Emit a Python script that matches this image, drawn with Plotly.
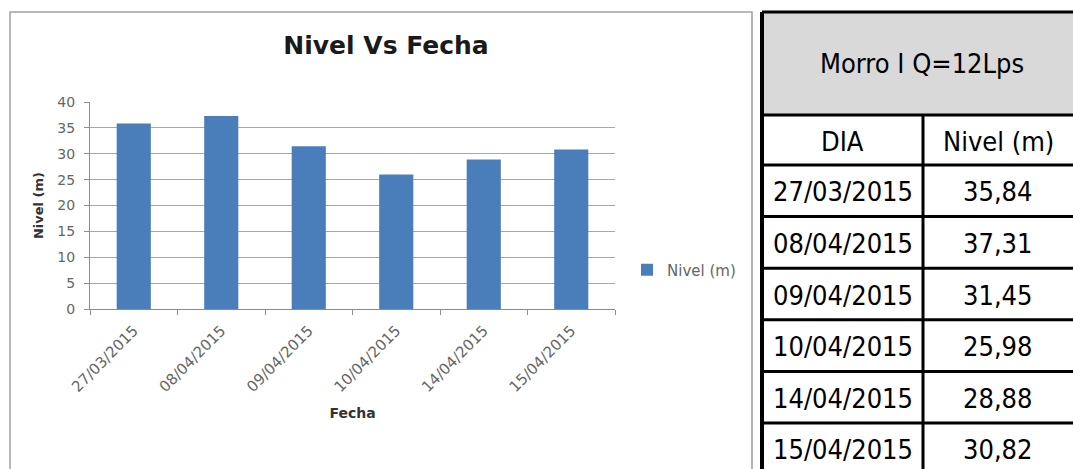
import plotly.graph_objects as go

# ---- data ----
fechas = ["27/03/2015", "08/04/2015", "09/04/2015", "10/04/2015", "14/04/2015", "15/04/2015"]
nivel = [35.84, 37.31, 31.45, 25.98, 28.88, 30.82]
nivel_txt = ["35,84", "37,31", "31,45", "25,98", "28,88", "30,82"]
serie_nombre = "Nivel (m)"
titulo = "Nivel Vs Fecha"
tabla_titulo = "Morro I Q=12Lps"
tabla_cols = ["DIA", "Nivel (m)"]
y_ticks = [0, 5, 10, 15, 20, 25, 30, 35, 40]

W, H = 1073, 469


def px(x):
    return x / W


def py(y):
    return 1 - y / H


fig = go.Figure()
fig.add_trace(go.Bar(
    x=fechas, y=nivel, name=serie_nombre,
    marker=dict(color="#4A7EBB", line=dict(width=0)),
    width=0.39, showlegend=True,
))

axis_grey = "#8c8c8c"
tick_font = dict(family="DejaVu Sans", size=14, color="#666666")

fig.update_layout(
    width=W, height=H,
    margin=dict(l=0, r=0, t=0, b=0, pad=0),
    paper_bgcolor="white", plot_bgcolor="white",
    title=dict(text="<b>" + titulo + "</b>", x=px(386), xanchor="center",
               y=py(45), yanchor="middle", yref="paper", xref="paper",
               font=dict(family="DejaVu Sans", size=25, color="#1a1a1a")),
    xaxis=dict(domain=[px(90), px(615)], type="category", automargin=False,
               tickson="boundaries", ticks="outside", ticklen=5, tickcolor=axis_grey,
               showline=True, linecolor=axis_grey, linewidth=1,
               showgrid=False, tickangle=-45, tickfont=dict(family="DejaVu Sans", size=15, color="#666666"),
               ticklabelstandoff=6,
               title=dict(text="<b>Fecha</b>", font=dict(family="DejaVu Sans", size=14, color="#333333"),
                          standoff=13)),
    yaxis=dict(domain=[py(309), py(102)], range=[0, 40], tickvals=y_ticks, automargin=False,
               ticks="outside", ticklen=5, tickcolor=axis_grey,
               showline=True, linecolor=axis_grey, linewidth=1,
               showgrid=True, gridcolor="#a8a8a8", gridwidth=1, zeroline=False,
               tickfont=tick_font, ticklabelstandoff=6,
               title=dict(text="<b>Nivel (m)</b>", font=dict(family="DejaVu Sans", size=13, color="#333333"),
                          standoff=10)),
    legend=dict(x=px(627), y=py(270), xanchor="left", yanchor="middle",
                font=dict(family="DejaVu Sans", size=15, color="#666666"),
                itemwidth=30, bgcolor="rgba(0,0,0,0)"),
    bargap=0.6,
)

shapes = []
annotations = []

# chart border
shapes.append(dict(type="rect", xref="paper", yref="paper",
                   x0=px(10), x1=px(752), y0=py(472), y1=py(12),
                   line=dict(color="#a0a0a0", width=1.5), fillcolor="rgba(0,0,0,0)", layer="below"))

# ---- table ----
tx0, tx1, tmid = 762, 1076, 923
head_top, head_bot = 12, 115
colhead_bot = 165
row_h = 51.6
n = len(fechas)
tbot = colhead_bot + row_h * n
black = dict(color="black", width=3)
tfont = dict(family="DejaVu Sans Condensed, Liberation Sans", size=27, color="black")

shapes.append(dict(type="rect", xref="paper", yref="paper",
                   x0=px(tx0), x1=px(tx1), y0=py(head_bot), y1=py(head_top),
                   fillcolor="#d9d9d9", line=dict(width=0), layer="below"))
# horizontal lines
ys = [head_top, head_bot, colhead_bot] + [colhead_bot + row_h * (i + 1) for i in range(n)]
for yv in ys:
    shapes.append(dict(type="line", xref="paper", yref="paper",
                       x0=px(tx0), x1=px(tx1), y0=py(yv), y1=py(yv), line=black))
# vertical lines
shapes.append(dict(type="line", xref="paper", yref="paper",
                   x0=px(tx0), x1=px(tx0), y0=py(head_top), y1=py(tbot), line=dict(color="black", width=4)))
shapes.append(dict(type="line", xref="paper", yref="paper",
                   x0=px(tmid), x1=px(tmid), y0=py(head_bot), y1=py(tbot), line=black))

c1 = (tx0 + tmid) / 2
c2 = (tmid + 1073) / 2


def cell(text, x, y):
    annotations.append(dict(text=text, x=px(x), y=py(y), xref="paper", yref="paper",
                            xanchor="center", yanchor="middle", showarrow=False, font=tfont))


cell(tabla_titulo, 922, (head_top + head_bot) / 2)
cell(tabla_cols[0], c1, (head_bot + colhead_bot) / 2 + 1)
cell(tabla_cols[1], c2, (head_bot + colhead_bot) / 2 + 1)
for i in range(n):
    yc = colhead_bot + row_h * (i + 0.5) + 1
    cell(fechas[i], c1, yc)
    cell(nivel_txt[i], c2, yc)

fig.update_layout(shapes=shapes, annotations=annotations)
fig.write_html("out.html")
